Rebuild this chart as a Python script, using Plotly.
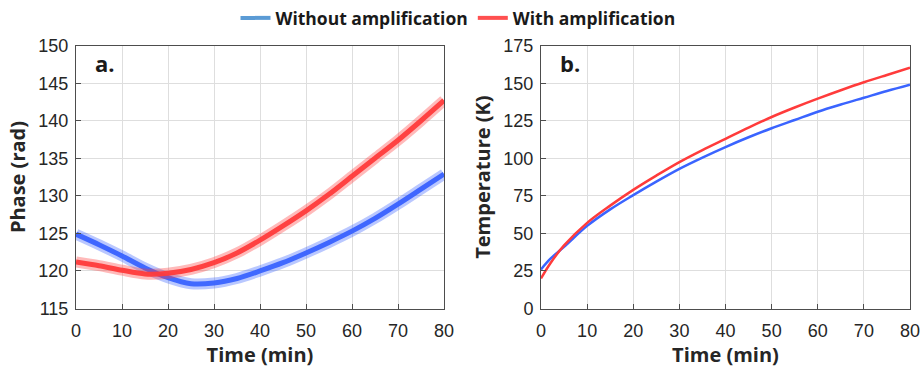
import plotly.graph_objects as go

# ---- data ----
time_a = [0, 5, 10, 15, 20, 25, 30, 35, 40, 45, 50, 55, 60, 65, 70, 75, 80]
phase_without = [124.9, 123.5, 122.0, 120.4, 119.1, 118.3, 118.4, 119.0, 120.0, 121.1, 122.4, 123.8, 125.3, 127.0, 128.9, 130.9, 132.9]
phase_with = [121.2, 120.7, 120.1, 119.6, 119.7, 120.2, 121.1, 122.4, 124.1, 126.0, 128.0, 130.2, 132.6, 135.0, 137.4, 140.0, 142.7]

time_b = [0, 2, 5, 10, 15, 20, 25, 30, 35, 40, 45, 50, 55, 60, 65, 70, 75, 80]
temp_without = [26, 33, 41, 55, 66, 75.5, 84.5, 93, 100.5, 107.5, 114, 120, 125.5, 131, 135.8, 140.3, 144.8, 149]
temp_with = [20, 30, 42, 57, 68.5, 79, 88.5, 97.5, 105.5, 113, 120.5, 127.5, 133.8, 139.7, 145.3, 150.6, 155.5, 160.3]

series_names = ["Without amplification", "With amplification"]
colors = ["#3a64ff", "#ff3b3b"]
legend_colors = ["#5b9bd5", "#ff5050"]

fig = go.Figure()

# panel a: noisy measurements drawn as a soft band with a dense core
for y, c in [(phase_without, colors[0]), (phase_with, colors[1])]:
    fig.add_trace(go.Scatter(x=time_a, y=y, mode="lines", xaxis="x", yaxis="y",
                             line=dict(color=c, width=11, shape="spline", smoothing=0.8),
                             opacity=0.35, showlegend=False, hoverinfo="skip"))
    fig.add_trace(go.Scatter(x=time_a, y=y, mode="lines", xaxis="x", yaxis="y",
                             line=dict(color=c, width=5, shape="spline", smoothing=0.8),
                             opacity=0.95, showlegend=False))

# panel b
for y, c in [(temp_without, colors[0]), (temp_with, colors[1])]:
    fig.add_trace(go.Scatter(x=time_b, y=y, mode="lines", xaxis="x2", yaxis="y2",
                             line=dict(color=c, width=2.5, shape="spline"), showlegend=False))

# legend entries
for name, c in zip(series_names, legend_colors):
    fig.add_trace(go.Scatter(x=[None], y=[None], mode="lines", name=name, xaxis="x", yaxis="y",
                             line=dict(color=c, width=4)))

tickfont = dict(family="Liberation Sans, Arial", size=18, color="#262626")
titlefont = dict(family="Open Sans, Segoe UI", size=20, color="#262626", weight="bold")
axis_common = dict(showgrid=True, gridcolor="#dedede", gridwidth=1, showline=True, linecolor="#4d4d4d",
                   linewidth=1, mirror=True, ticks="inside", ticklen=5, tickcolor="#4d4d4d",
                   tickfont=tickfont, zeroline=False, automargin=False)

W, H = 922, 370
ydom = [1 - 308 / H, 1 - 43 / H]

fig.update_layout(
    width=W, height=H,
    margin=dict(l=0, r=0, t=0, b=0),
    plot_bgcolor="white", paper_bgcolor="white",
    xaxis=dict(domain=[76 / W, 444 / W], anchor="y", range=[0, 80], dtick=10, ticklabelstandoff=6,
               title=dict(text="Time (min)", font=titlefont, standoff=4), **axis_common),
    yaxis=dict(domain=ydom, anchor="x", range=[115, 150], dtick=5, ticklabelstandoff=3,
               title=dict(text="Phase (rad)", font=titlefont, standoff=7), **axis_common),
    xaxis2=dict(domain=[541 / W, 910 / W], anchor="y2", range=[0, 80], dtick=10, ticklabelstandoff=6,
                title=dict(text="Time (min)", font=titlefont, standoff=4), **axis_common),
    yaxis2=dict(domain=ydom, anchor="x2", range=[0, 175], dtick=25, ticklabelstandoff=3,
                title=dict(text="Temperature (K)", font=titlefont, standoff=7), **axis_common),
    legend=dict(orientation="h", x=458 / W, y=1 - 15 / H, xanchor="center", yanchor="middle",
                font=dict(family="Open Sans", size=17.5, color="#1a1a1a", weight="bold"),
                itemwidth=30, bgcolor="rgba(0,0,0,0)"),
)

fig.add_annotation(text="a.", xref="x domain", yref="y domain", x=0.045, y=0.935, showarrow=False,
                   xanchor="left", yanchor="middle", font=dict(family="Open Sans", size=22, color="#1a1a1a", weight="bold"))
fig.add_annotation(text="b.", xref="x2 domain", yref="y2 domain", x=0.045, y=0.935, showarrow=False,
                   xanchor="left", yanchor="middle", font=dict(family="Open Sans", size=22, color="#1a1a1a", weight="bold"))

fig.write_html("out.html", config={"displayModeBar": False},
               post_script="document.body.style.margin='0px';document.body.style.overflow='hidden';")
